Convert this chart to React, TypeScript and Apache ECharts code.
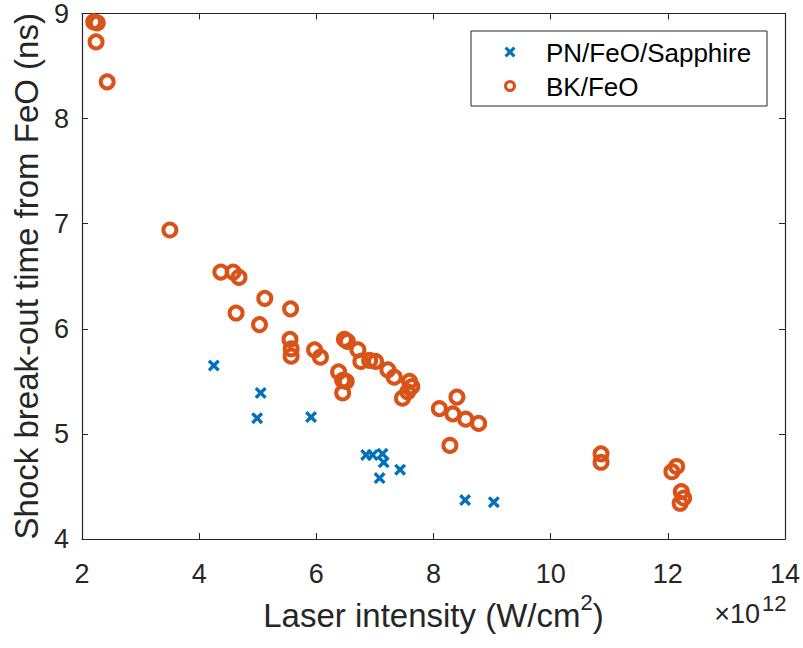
import React, { useEffect, useRef } from "react";
import * as echarts from "echarts";

// Laser intensity in units of 1e12 W/cm^2, shock break-out time in ns
const PN_INTENSITY = [4.25, 5.05, 4.99, 5.91, 6.85, 6.96, 7.13, 7.15, 7.08, 7.43, 8.54, 9.03];
const PN_TIME = [5.65, 5.39, 5.15, 5.16, 4.8, 4.8, 4.81, 4.73, 4.58, 4.66, 4.37, 4.35];

const BK_INTENSITY = [
  2.2, 2.26, 2.24, 2.43, 3.5, 4.37, 4.58, 4.68, 5.12, 4.63, 5.03, 5.56, 5.55, 5.57, 5.57,
  5.97, 6.07, 6.48, 6.53, 6.71, 6.76, 6.91, 7.01, 7.22, 7.33, 6.38, 6.45, 6.51, 6.45, 7.59,
  7.63, 7.56, 7.47, 8.1, 8.4, 8.33, 8.55, 8.77, 8.28, 10.86, 10.86, 12.15, 12.07, 12.23,
  12.27, 12.21,
];
const BK_TIME = [
  8.92, 8.91, 8.73, 8.35, 6.94, 6.54, 6.54, 6.49, 6.29, 6.15, 6.04, 6.19, 5.9, 5.81, 5.74,
  5.8, 5.73, 5.9, 5.88, 5.8, 5.69, 5.7, 5.69, 5.61, 5.54, 5.59, 5.51, 5.5, 5.39, 5.5,
  5.45, 5.4, 5.34, 5.24, 5.35, 5.19, 5.14, 5.1, 4.89, 4.81, 4.73, 4.69, 4.64, 4.45,
  4.39, 4.34,
];

const X_TICKS = [2, 4, 6, 8, 10, 12, 14];
const Y_TICKS = [4, 5, 6, 7, 8, 9];

const SERIES_NAMES = ["PN/FeO/Sapphire", "BK/FeO"];

const FONT = "Liberation Sans, Arial, Helvetica, sans-serif";
const AX = "#262626";
const BLUE = "#0072BD";
const ORANGE = "#D95319";
const CROSS =
  "path://M2,0 L5,3 L8,0 L10,2 L7,5 L10,8 L8,10 L5,7 L2,10 L0,8 L3,5 L0,2 Z";
const CROSS_PTS = [
  [2, 0], [5, 3], [8, 0], [10, 2], [7, 5], [10, 8], [8, 10], [5, 7], [2, 10], [0, 8], [3, 5], [0, 2],
];

export default function App() {
  const ref = useRef<HTMLDivElement>(null);
  useEffect(() => {
    if (!ref.current) return;
    const chart = echarts.init(ref.current, null, { renderer: "svg" });
    const pn = PN_INTENSITY.map((x, i) => [x, PN_TIME[i]]);
    const bk = BK_INTENSITY.map((x, i) => [x, BK_TIME[i]]);
    const baseX = {
      type: "value",
      min: X_TICKS[0],
      max: X_TICKS[X_TICKS.length - 1],
      interval: 2,
      splitLine: { show: false },
      axisLine: { show: true, onZero: false, lineStyle: { color: AX, width: 1.2 } },
      axisTick: { show: true, inside: true, length: 6, lineStyle: { color: AX, width: 1 } },
    };
    const baseY = {
      type: "value",
      min: Y_TICKS[0],
      max: Y_TICKS[Y_TICKS.length - 1],
      interval: 1,
      splitLine: { show: false },
      axisLine: { show: true, onZero: false, lineStyle: { color: AX, width: 1.2 } },
      axisTick: { show: true, inside: true, length: 6, lineStyle: { color: AX, width: 1 } },
    };
    const lgX = 510;
    const crossSize = 11;
    const crossPoly = CROSS_PTS.map(([px, py]) => [
      lgX - crossSize / 2 + (px * crossSize) / 10,
      52 - crossSize / 2 + (py * crossSize) / 10,
    ]);
    chart.setOption({
      animation: false,
      backgroundColor: "#ffffff",
      grid: { left: 82, right: 17, top: 13, bottom: 109, containLabel: false },
      xAxis: [
        {
          ...baseX,
          position: "bottom",
          name: "{a|Laser intensity (W/cm}{b|2}{a|)}",
          nameLocation: "middle",
          nameGap: 38,
          nameTextStyle: {
            rich: {
              a: { fontFamily: FONT, fontSize: 33, color: AX, lineHeight: 40, verticalAlign: "bottom" },
              b: { fontFamily: FONT, fontSize: 22, color: AX, lineHeight: 40, verticalAlign: "top" },
            },
          },
          axisLabel: { fontFamily: FONT, fontSize: 27, color: AX, margin: 21 },
        },
        { ...baseX, position: "top", axisLabel: { show: false } },
      ],
      yAxis: [
        {
          ...baseY,
          position: "left",
          name: "Shock break-out time from FeO (ns)",
          nameLocation: "middle",
          nameGap: 36,
          nameTextStyle: { fontFamily: FONT, fontSize: 33, color: AX },
          axisLabel: { fontFamily: FONT, fontSize: 27, color: AX, margin: 13 },
        },
        { ...baseY, position: "right", axisLabel: { show: false } },
      ],
      series: [
        {
          name: SERIES_NAMES[0],
          type: "scatter",
          data: pn,
          symbol: CROSS,
          symbolSize: 12,
          itemStyle: { color: BLUE, opacity: 1 },
          z: 3,
        },
        {
          name: SERIES_NAMES[1],
          type: "scatter",
          data: bk,
          symbol: "circle",
          symbolSize: 13,
          itemStyle: { color: "rgba(0,0,0,0)", borderColor: ORANGE, borderWidth: 4, opacity: 1 },
          z: 2,
        },
      ],
      graphic: [
        {
          type: "group",
          z: 100,
          children: [
            {
              type: "rect",
              shape: { x: 471, y: 31, width: 296, height: 75 },
              style: { fill: "#ffffff", stroke: AX, lineWidth: 1 },
            },
            {
              type: "polygon",
              shape: { points: crossPoly },
              style: { fill: BLUE },
            },
            {
              type: "circle",
              shape: { cx: lgX, cy: 86, r: 4.5 },
              style: { fill: "none", stroke: ORANGE, lineWidth: 3 },
            },
            {
              type: "text",
              x: 546,
              y: 53,
              style: { text: SERIES_NAMES[0], font: `26px ${FONT}`, fill: "#000", verticalAlign: "middle" },
            },
            {
              type: "text",
              x: 546,
              y: 87,
              style: { text: SERIES_NAMES[1], font: `26px ${FONT}`, fill: "#000", verticalAlign: "middle" },
            },
          ],
        },
        {
          type: "text",
          x: 760,
          y: 614,
          style: { text: "×10", font: `27px ${FONT}`, fill: AX, align: "right", verticalAlign: "middle" },
        },
        {
          type: "text",
          x: 762,
          y: 603,
          style: { text: "12", font: `22px ${FONT}`, fill: AX, align: "left", verticalAlign: "middle" },
        },
      ],
    });
    return () => chart.dispose();
  }, []);
  return (
    <div
      ref={ref}
      style={{ position: "fixed", left: 0, top: 0, width: 803, height: 648, background: "#fff" }}
    />
  );
}
